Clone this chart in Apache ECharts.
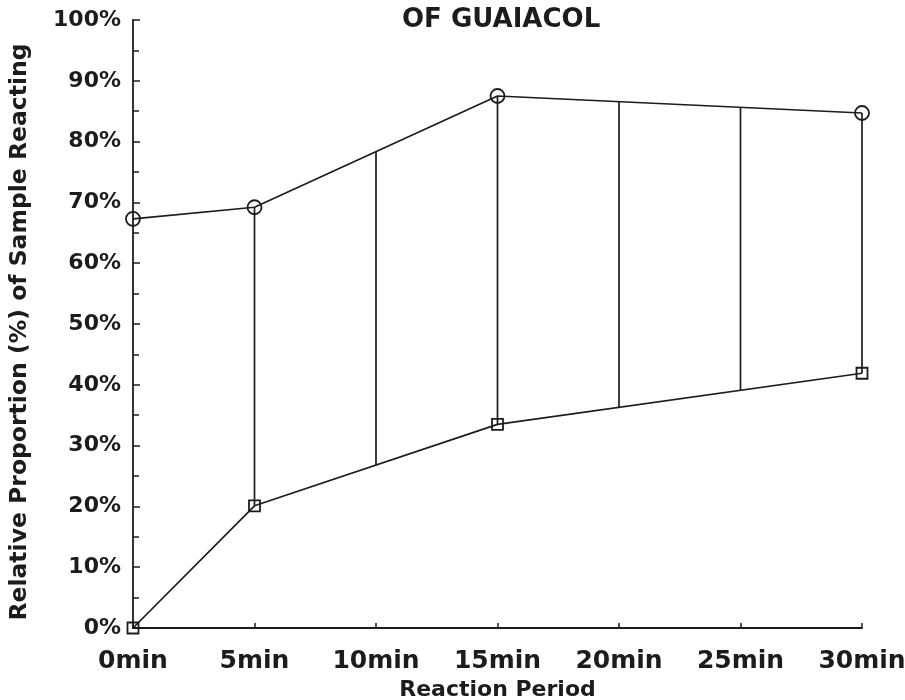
<!DOCTYPE html>
<html>
<head>
<meta charset="utf-8">
<script src="https://cdn.jsdelivr.net/npm/echarts@6/dist/echarts.min.js"></script>
<style>
  html, body { margin: 0; padding: 0; background: #ffffff; }
  #chart { width: 905px; height: 700px; }
</style>
</head>
<body>
<div id="chart"></div>
<script>
// Reaction time points (minutes) where samples were measured
var upperTimes = [0, 5, 15, 30];
var upperValues = [67.3, 69.2, 87.5, 84.7];   // circles
var lowerTimes = [0, 5, 15, 30];
var lowerValues = [0, 20.1, 33.5, 41.9];      // squares

// Vertical range bars joining the two curves
var rangeTimes = [5, 10, 15, 20, 25, 30];
var rangeLow  = [20.1, 26.8, 33.5, 36.3, 39.1, 41.9];
var rangeHigh = [69.2, 78.35, 87.5, 86.57, 85.63, 84.7];

var ink = '#1c1c1c';
var tickFont = 'DejaVu Sans';

function pairs(xs, ys) {
  return xs.map(function (x, i) { return [x, ys[i]]; });
}

var chart = echarts.init(document.getElementById('chart'), null, { renderer: 'canvas' });

chart.setOption({
  backgroundColor: '#ffffff',
  animation: false,
  title: {
    text: 'OF GUAIACOL',
    left: 397,
    top: 2,
    textStyle: { fontFamily: tickFont, fontWeight: 'bold', fontSize: 26, color: ink }
  },
  grid: { left: 133, right: 43, top: 20, bottom: 72, containLabel: false, outerBoundsMode: 'none' },
  xAxis: {
    type: 'value',
    min: 0, max: 30, interval: 5,
    name: 'Reaction Period',
    nameLocation: 'middle',
    nameGap: 47,
    nameTextStyle: { fontFamily: tickFont, fontWeight: 'bold', fontSize: 22, color: ink },
    axisLine: { lineStyle: { color: ink, width: 1.8 } },
    axisTick: { show: true, inside: true, length: 5, lineStyle: { color: ink, width: 1.5 } },
    axisLabel: {
      formatter: '{value}min', margin: 21,
      fontFamily: tickFont, fontWeight: 'bold', fontSize: 25, color: ink
    },
    splitLine: { show: false }
  },
  yAxis: {
    type: 'value',
    min: 0, max: 100, interval: 10,
    name: 'Relative Proportion (%) of Sample Reacting',
    nameLocation: 'middle',
    nameGap: 101,
    nameTextStyle: {
      fontFamily: tickFont, fontWeight: 'bold', fontSize: 23.5, color: ink,
      padding: [0, 16, 0, 0]
    },
    axisLine: { show: true, lineStyle: { color: ink, width: 1.8 } },
    axisTick: { show: true, inside: true, length: 7, lineStyle: { color: ink, width: 1.5 } },
    minorTick: { show: true, splitNumber: 2, length: 6, lineStyle: { color: ink, width: 1.5 } },
    axisLabel: {
      formatter: '{value}%', margin: 12,
      fontFamily: tickFont, fontWeight: 'bold', fontSize: 22, color: ink
    },
    splitLine: { show: false }
  },
  series: [
    {
      type: 'custom',
      name: 'range',
      data: rangeTimes.map(function (t, i) { return [t, rangeLow[i], rangeHigh[i]]; }),
      renderItem: function (params, api) {
        var p0 = api.coord([api.value(0), api.value(1)]);
        var p1 = api.coord([api.value(0), api.value(2)]);
        return {
          type: 'line',
          shape: { x1: p0[0], y1: p0[1], x2: p1[0], y2: p1[1] },
          style: { stroke: ink, lineWidth: 1.7 }
        };
      },
      z: 1
    },
    {
      type: 'line',
      name: 'upper',
      data: pairs(upperTimes, upperValues),
      symbol: 'circle',
      symbolSize: 14,
      lineStyle: { color: ink, width: 1.7 },
      itemStyle: { color: 'rgba(0,0,0,0)', borderColor: ink, borderWidth: 1.8 },
      z: 3
    },
    {
      type: 'line',
      name: 'lower',
      data: pairs(lowerTimes, lowerValues),
      symbol: 'rect',
      symbolSize: 11,
      lineStyle: { color: ink, width: 1.7 },
      itemStyle: { color: 'rgba(0,0,0,0)', borderColor: ink, borderWidth: 1.8 },
      z: 3
    }
  ]
});
</script>
</body>
</html>
